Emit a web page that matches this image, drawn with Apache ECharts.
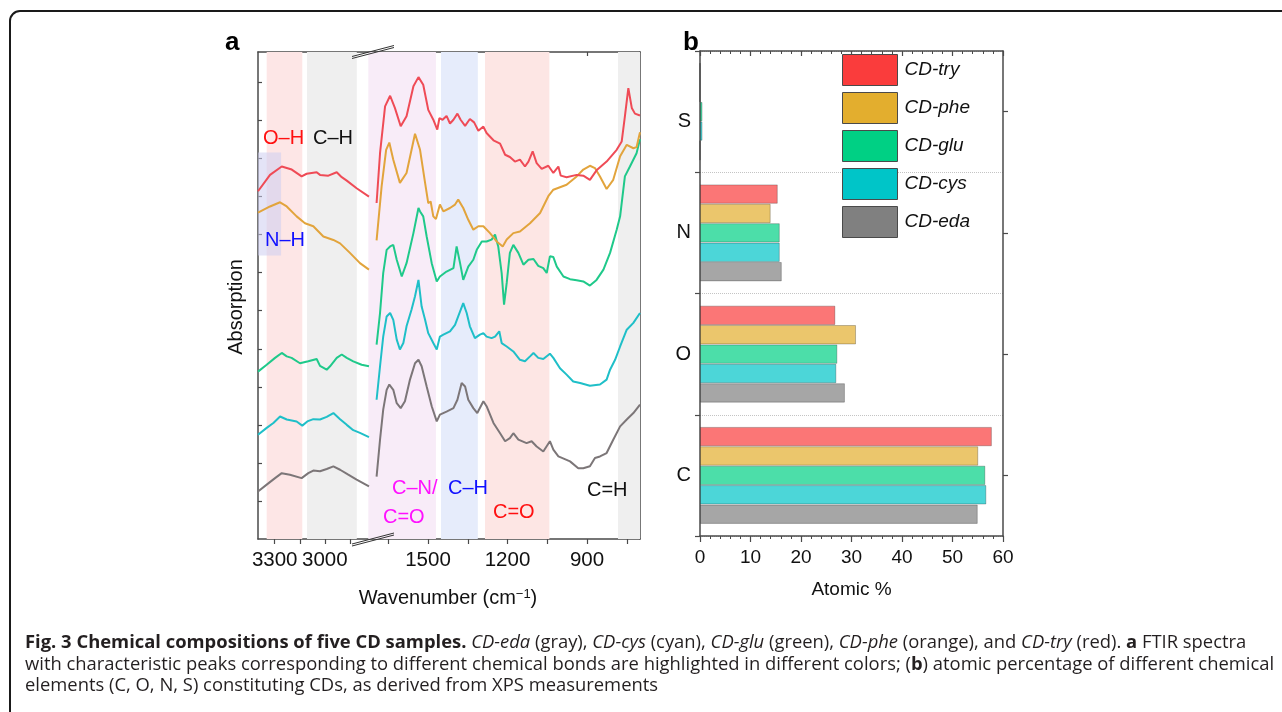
<!DOCTYPE html>
<html>
<head>
<meta charset="utf-8">
<script src="https://cdn.jsdelivr.net/npm/echarts@6/dist/echarts.min.js"></script>
<style>
  html, body { margin: 0; padding: 0; background: #fff; }
  #main { width: 1282px; height: 712px; }
</style>
</head>
<body>
<div id="main"></div>
<script>
// ---- panel a: FTIR (broken wavenumber axis) ----
var leftTicks = [2850, 3000, 3150, 3300];
var leftLabels = [3000, 3300];
var rightTicks = [750, 900, 1050, 1200, 1350, 1500, 1650];
var rightLabels = [900, 1200, 1500];
var absTicks = [1, 2, 3, 4, 5, 6, 7, 8, 9, 10, 11, 12];

// [wavenumber, absorption (a.u., offset)]
var tryLeft = [[3400,9.14],[3328,9.57],[3258,9.79],[3198,9.71],[3139,9.53],[3109,9.60],[3049,9.64],[3029,9.57],[2979,9.55],[2929,9.64],[2899,9.51],[2869,9.42],[2810,9.22],[2736,9.00]];
var tryRight = [[1694,8.83],[1681,10.14],[1662,11.37],[1643,11.65],[1625,11.33],[1603,10.85],[1581,11.11],[1555,11.90],[1536,12.14],[1518,11.94],[1499,11.28],[1480,11.02],[1465,10.76],[1457,11.06],[1445,11.02],[1430,11.12],[1417,10.92],[1404,11.02],[1389,11.18],[1377,11.02],[1360,10.86],[1342,11.04],[1326,10.95],[1310,10.73],[1291,10.84],[1279,10.67],[1253,10.48],[1228,10.39],[1209,10.10],[1191,10.04],[1172,9.92],[1153,9.97],[1134,9.79],[1121,9.92],[1105,10.19],[1090,9.88],[1071,9.73],[1046,9.81],[1027,9.62],[1008,9.79],[999,9.55],[977,9.51],[939,9.57],[914,9.55],[889,9.44],[864,9.69],[826,9.92],[788,10.23],[769,10.45],[757,11.11],[744,11.85],[731,11.33],[719,11.18],[700,11.13]];
var pheLeft = [[3400,8.58],[3328,8.74],[3268,8.85],[3228,8.74],[3169,8.48],[3119,8.30],[3069,8.22],[3009,7.95],[2949,7.86],[2909,7.77],[2850,7.52],[2790,7.25],[2736,7.08]];
var pheRight = [[1694,7.85],[1675,9.27],[1658,10.23],[1646,10.42],[1631,9.97],[1606,9.36],[1581,9.62],[1562,10.23],[1549,10.65],[1530,10.23],[1511,9.36],[1499,8.83],[1490,8.87],[1480,8.48],[1470,8.41],[1455,8.79],[1442,8.61],[1417,8.70],[1398,8.79],[1386,8.92],[1367,8.70],[1348,8.39],[1329,8.13],[1310,8.22],[1291,8.22],[1266,8.04],[1241,7.82],[1218,7.69],[1203,7.87],[1178,8.04],[1153,8.08],[1115,8.30],[1077,8.57],[1046,9.01],[1027,9.18],[977,9.31],[939,9.53],[914,9.71],[889,9.81],[870,9.75],[851,9.53],[826,9.20],[801,9.44],[775,10.06],[750,10.36],[725,10.27],[713,10.30],[700,10.69]];
var gluLeft = [[3400,4.40],[3348,4.58],[3298,4.76],[3258,4.89],[3228,4.80],[3199,4.76],[3149,4.62],[3099,4.67],[3049,4.73],[3029,4.55],[2989,4.45],[2969,4.54],[2929,4.76],[2899,4.85],[2869,4.76],[2830,4.67],[2780,4.58],[2736,4.54]];
var gluRight = [[1694,5.11],[1681,5.94],[1669,6.99],[1656,7.60],[1643,7.69],[1631,7.73],[1618,7.34],[1599,6.90],[1581,7.25],[1555,8.04],[1536,8.70],[1530,8.61],[1518,8.48],[1505,7.95],[1486,7.25],[1467,6.77],[1455,6.90],[1430,7.03],[1404,7.12],[1392,7.69],[1379,7.25],[1367,6.81],[1348,7.16],[1329,7.34],[1316,7.60],[1297,7.82],[1279,7.82],[1260,7.87],[1247,8.00],[1235,7.69],[1222,6.99],[1213,6.16],[1203,6.73],[1191,7.52],[1178,7.73],[1159,7.52],[1140,7.21],[1121,7.34],[1102,7.36],[1084,7.18],[1065,7.12],[1052,6.99],[1040,7.43],[1027,7.41],[1014,7.16],[989,6.90],[964,6.83],[939,6.80],[914,6.77],[889,6.66],[864,6.81],[838,7.08],[813,7.52],[788,8.13],[775,8.48],[757,9.53],[738,9.79],[713,10.14],[700,10.51]];
var cysLeft = [[3400,2.74],[3348,2.92],[3308,3.05],[3268,3.22],[3228,3.14],[3169,3.09],[3135,2.98],[3105,3.09],[3069,3.15],[3029,3.14],[2989,3.21],[2949,3.31],[2909,3.15],[2869,3.00],[2830,2.86],[2790,2.79],[2736,2.68]];
var cysRight = [[1694,3.66],[1681,4.54],[1669,5.32],[1656,5.85],[1643,5.94],[1631,5.76],[1618,5.24],[1606,4.98],[1593,5.15],[1581,5.59],[1562,6.03],[1549,6.38],[1536,6.81],[1524,6.11],[1511,5.76],[1499,5.41],[1480,5.15],[1467,4.98],[1455,5.32],[1442,5.37],[1417,5.46],[1398,5.63],[1386,5.85],[1367,6.20],[1354,5.94],[1342,5.59],[1323,5.28],[1304,5.37],[1291,5.41],[1279,5.32],[1260,5.28],[1247,5.32],[1231,5.46],[1222,5.15],[1203,5.06],[1178,4.93],[1153,4.71],[1134,4.67],[1115,4.80],[1102,4.89],[1084,4.76],[1065,4.73],[1040,4.87],[1027,4.76],[1002,4.49],[977,4.32],[952,4.14],[926,4.10],[889,4.03],[851,4.06],[826,4.19],[813,4.45],[794,4.71],[775,5.06],[750,5.50],[725,5.68],[700,5.94]];
var edaLeft = [[3400,1.25],[3348,1.43],[3298,1.60],[3258,1.73],[3209,1.69],[3139,1.60],[3099,1.73],[3069,1.80],[3029,1.78],[2989,1.84],[2949,1.91],[2909,1.82],[2860,1.69],[2810,1.56],[2736,1.38]];
var edaRight = [[1694,1.64],[1681,2.61],[1669,3.40],[1656,3.92],[1646,4.06],[1631,3.92],[1618,3.57],[1603,3.44],[1587,3.62],[1568,4.19],[1549,4.62],[1536,4.71],[1524,4.54],[1505,4.01],[1486,3.49],[1467,3.09],[1455,3.27],[1430,3.35],[1404,3.44],[1389,3.66],[1373,4.10],[1360,4.01],[1348,3.66],[1329,3.44],[1314,3.31],[1291,3.62],[1279,3.49],[1253,3.05],[1228,2.78],[1209,2.57],[1191,2.65],[1178,2.78],[1159,2.61],[1128,2.52],[1109,2.57],[1090,2.43],[1065,2.30],[1040,2.57],[1027,2.35],[1008,2.17],[977,2.08],[964,2.04],[933,1.86],[914,1.86],[889,1.91],[870,2.13],[851,2.17],[826,2.26],[801,2.61],[775,2.96],[750,3.14],[725,3.31],[700,3.53]];

// highlighted wavenumber ranges
var ohBand = [3348, 3135];
var chBand = [3107, 2809];
var nhBand = [3400, 3262];
var nhBandAbs = [7.45, 10.16];
var cnBandLeft = [2740, 2700];
var cnBand = [1700, 1470];
var chBand2 = [1451, 1312];
var coBand = [1285, 1042];
var chBand3 = [783, 700];

// ---- panel b: XPS atomic % ----
var elements = ['C', 'O', 'N', 'S'];
var atomicEda = [55.0, 28.7, 16.2, 0];
var atomicCys = [56.7, 27.0, 15.8, 0.5];
var atomicGlu = [56.5, 27.2, 15.8, 0.5];
var atomicPhe = [55.1, 30.9, 14.0, 0];
var atomicTry = [57.8, 26.8, 15.4, 0];
var atomicTicks = [0, 60, 10];

var FONT = '"Liberation Sans", Arial, sans-serif';
var CAPTION_FONT = '"Open Sans", "Noto Sans", sans-serif';
var CAP = 18.4;
var axisColor = '#4a4a4a';
var txt = '#111';

var lineColors = { eda: '#7c7678', cys: '#1fbfc8', glu: '#1fc98a', phe: '#e2a43c', tr: '#ef4b56' };
var barColors = { eda: '#808080', cys: '#00c5c8', glu: '#00d084', phe: '#e3ae2e', tr: '#fa3c3c' };

function plain(v) { return String(v); }

function ftirX(grid, min, max, ticks, labels, top) {
  return {
    type: 'value', gridIndex: grid, position: top ? 'top' : 'bottom',
    min: min, max: max, inverse: true,
    axisLine: { show: true, onZero: false, lineStyle: { color: axisColor, width: 1.5 } },
    axisTick: { show: true, inside: !!top, length: top ? 4 : 5, customValues: ticks,
      lineStyle: { color: axisColor, width: 1.2 } },
    axisLabel: { show: !top, customValues: labels, formatter: plain,
      fontSize: 20.5, fontFamily: FONT, color: txt, margin: 11 },
    splitLine: { show: false }
  };
}
function ftirY(grid, pos) {
  return {
    type: 'value', gridIndex: grid, position: pos, min: 0, max: 12.8,
    axisLine: { show: true, onZero: false, lineStyle: { color: axisColor, width: 1.5 } },
    axisTick: { show: true, inside: true, length: 4, customValues: absTicks,
      lineStyle: { color: axisColor, width: 1.2 } },
    axisLabel: { show: false },
    splitLine: { show: false }
  };
}
function spectrum(name, data, color, side) {
  return {
    name: name, type: 'line', xAxisIndex: side * 2, yAxisIndex: side,
    data: data, symbol: 'none', smooth: false, silent: true, z: 3,
    lineStyle: { color: color, width: 2 }
  };
}
function band(r, color) { return [{ xAxis: r[0], itemStyle: { color: color } }, { xAxis: r[1] }]; }
function bars(name, data, color) {
  return {
    name: name, type: 'bar', xAxisIndex: 4, yAxisIndex: 2, data: data,
    barGap: '0%', barCategoryGap: '20%', silent: true,
    itemStyle: { color: color, opacity: 0.7, borderColor: 'rgba(0,0,0,0.35)', borderWidth: 1 }
  };
}
function label(text, x, y, color) {
  return { type: 'text', x: x, y: y, z: 50,
    style: { text: text, fontSize: 20, fontFamily: FONT, fill: color, align: 'left', verticalAlign: 'middle' } };
}

var chart = echarts.init(document.getElementById('main'));

var option = {
  animation: false,
  backgroundColor: '#fff',
  grid: [
    { left: 258, top: 52, width: 117, height: 487 },
    { left: 375, top: 52, width: 265, height: 487 },
    { left: 700, top: 51, width: 303, height: 485 }
  ],
  xAxis: [
    ftirX(0, 2700, 3400, leftTicks, leftLabels, false),
    ftirX(0, 2700, 3400, leftTicks, leftLabels, true),
    ftirX(1, 700, 1700, rightTicks, rightLabels, false),
    ftirX(1, 700, 1700, rightTicks, rightLabels, true),
    {
      type: 'value', gridIndex: 2, position: 'bottom',
      min: atomicTicks[0], max: atomicTicks[1], interval: atomicTicks[2],
      axisLine: { show: true, onZero: false, lineStyle: { color: axisColor, width: 1.5 } },
      axisTick: { show: true, length: 6, lineStyle: { color: axisColor, width: 1.2 } },
      minorTick: { show: true, splitNumber: 5, length: 3, lineStyle: { color: axisColor, width: 1 } },
      axisLabel: { fontSize: 19, fontFamily: FONT, color: txt, margin: 12 },
      splitLine: { show: false },
      name: 'Atomic %', nameLocation: 'middle', nameGap: 44,
      nameTextStyle: { fontSize: 19, fontFamily: FONT, color: txt }
    },
    {
      type: 'value', gridIndex: 2, position: 'top',
      min: atomicTicks[0], max: atomicTicks[1], interval: atomicTicks[2],
      axisLine: { show: true, onZero: false, lineStyle: { color: axisColor, width: 1.5 } },
      axisTick: { show: true, inside: true, length: 5, lineStyle: { color: axisColor, width: 1.2 } },
      minorTick: { show: true, splitNumber: 5, length: 3, lineStyle: { color: axisColor, width: 1 } },
      axisLabel: { show: false },
      splitLine: { show: false }
    }
  ],
  yAxis: [
    ftirY(0, 'left'),
    ftirY(1, 'right'),
    {
      type: 'category', gridIndex: 2, position: 'left', data: elements,
      axisLine: { show: true, onZero: false, lineStyle: { color: axisColor, width: 1.5 } },
      axisTick: { show: true, length: 5, lineStyle: { color: axisColor, width: 1.2 } },
      axisLabel: {
        fontSize: 20, fontFamily: FONT, color: txt, margin: 9,
        formatter: function (v) { return v === 'S' ? '{low|S}' : v; },
        rich: { low: { fontSize: 20, fontFamily: FONT, color: txt, padding: [20, 0, 0, 0] } }
      },
      splitLine: { show: true, lineStyle: { color: '#c4c4c4', type: 'dotted', width: 1 } }
    },
    {
      type: 'category', gridIndex: 2, position: 'right', data: elements,
      axisLine: { show: true, onZero: false, lineStyle: { color: axisColor, width: 1.5 } },
      axisTick: { show: true, alignWithLabel: true, length: 5, lineStyle: { color: axisColor, width: 1.2 } },
      axisLabel: { show: false },
      splitLine: { show: false }
    }
  ],
  legend: {
    data: ['CD-try', 'CD-phe', 'CD-glu', 'CD-cys', 'CD-eda'],
    orient: 'vertical', left: 842, top: 54, padding: 0,
    itemWidth: 55, itemHeight: 31, itemGap: 6, icon: 'rect', selectedMode: false,
    itemStyle: { opacity: 1, borderColor: '#4a4a4a', borderWidth: 1 },
    textStyle: { fontSize: 19, fontStyle: 'italic', fontFamily: FONT, color: txt, padding: [0, 0, 0, 2] }
  },
  series: [
    {
      type: 'line', xAxisIndex: 0, yAxisIndex: 0, data: [], z: 1, silent: true,
      markArea: {
        silent: true,
        data: [
          band(ohBand, '#fde6e6'),
          band(chBand, '#efefef'),
          band(cnBandLeft, '#f8ecf8'),
          [{ xAxis: nhBand[0], yAxis: nhBandAbs[0], itemStyle: { color: 'rgba(205,205,240,0.55)' } },
           { xAxis: nhBand[1], yAxis: nhBandAbs[1] }]
        ]
      }
    },
    {
      type: 'line', xAxisIndex: 2, yAxisIndex: 1, data: [], z: 1, silent: true,
      markArea: {
        silent: true,
        data: [
          band(cnBand, '#f8ecf8'),
          band(chBand2, '#e6ecfb'),
          band(coBand, '#fde6e4'),
          band(chBand3, '#efefef')
        ]
      }
    },
    spectrum('FTIR CD-eda L', edaLeft, lineColors.eda, 0),
    spectrum('FTIR CD-cys L', cysLeft, lineColors.cys, 0),
    spectrum('FTIR CD-glu L', gluLeft, lineColors.glu, 0),
    spectrum('FTIR CD-phe L', pheLeft, lineColors.phe, 0),
    spectrum('FTIR CD-try L', tryLeft, lineColors.tr, 0),
    spectrum('FTIR CD-eda R', edaRight, lineColors.eda, 1),
    spectrum('FTIR CD-cys R', cysRight, lineColors.cys, 1),
    spectrum('FTIR CD-glu R', gluRight, lineColors.glu, 1),
    spectrum('FTIR CD-phe R', pheRight, lineColors.phe, 1),
    spectrum('FTIR CD-try R', tryRight, lineColors.tr, 1),
    // first series sits at the top of each category band
    bars('CD-try', atomicTry, barColors.tr),
    bars('CD-phe', atomicPhe, barColors.phe),
    bars('CD-glu', atomicGlu, barColors.glu),
    bars('CD-cys', atomicCys, barColors.cys),
    bars('CD-eda', atomicEda, barColors.eda)
  ],
  graphic: [
    // outer frame
    { type: 'rect', z: 0, shape: { x: 10, y: 11, width: 1300, height: 740, r: 10 },
      style: { fill: 'none', stroke: '#1a1a1a', lineWidth: 2 } },
    // panel letters
    { type: 'text', x: 225, y: 43, z: 50, style: { text: 'a', fontSize: 26, fontWeight: 'bold', fontFamily: FONT, fill: '#000', align: 'left', verticalAlign: 'middle' } },
    { type: 'text', x: 683, y: 43, z: 50, style: { text: 'b', fontSize: 26, fontWeight: 'bold', fontFamily: FONT, fill: '#000', align: 'left', verticalAlign: 'middle' } },
    // axis titles of panel a
    { type: 'text', x: 236, y: 307, rotation: Math.PI / 2, z: 50,
      style: { text: 'Absorption', fontSize: 20, fontFamily: FONT, fill: txt, align: 'center', verticalAlign: 'middle' } },
    { type: 'text', x: 448, y: 598, z: 50,
      style: { text: 'Wavenumber (cm{sup|\u22121})', fontSize: 20, fontFamily: FONT, fill: txt, align: 'center', verticalAlign: 'middle',
        rich: { sup: { fontSize: 13, fontFamily: FONT, fill: txt, verticalAlign: 'top', padding: [0, 0, 6, 0] } } } },
    // band annotations
    label('O\u2013H', 263, 138, '#ff1010'),
    label('C\u2013H', 313, 138, '#111'),
    label('N\u2013H', 265, 240, '#1010ff'),
    label('C\u2013N/', 392, 488, '#ff10ff'),
    label('C\u2013H', 448, 488, '#1010ff'),
    label('C=O', 383, 517, '#ff10ff'),
    label('C=O', 493, 512, '#ff1010'),
    label('C=H', 587, 490, '#111'),
    // axis break marks
    { type: 'line', z: 50, shape: { x1: 352, y1: 56.5, x2: 394, y2: 45.5 }, style: { stroke: '#333', lineWidth: 1 } },
    { type: 'line', z: 50, shape: { x1: 352, y1: 58.5, x2: 394, y2: 47.5 }, style: { stroke: '#333', lineWidth: 1 } },
    { type: 'line', z: 50, shape: { x1: 352, y1: 544, x2: 394, y2: 533 }, style: { stroke: '#333', lineWidth: 1 } },
    { type: 'line', z: 50, shape: { x1: 352, y1: 546, x2: 394, y2: 535 }, style: { stroke: '#333', lineWidth: 1 } },
    // caption
    { type: 'text', x: 25, y: 643, z: 50,
      style: { text: '{b|Fig. 3 Chemical compositions of five CD samples.} {i|CD-eda} (gray), {i|CD-cys} (cyan), {i|CD-glu} (green), {i|CD-phe} (orange), and {i|CD-try} (red). {b|a} FTIR spectra',
        fontSize: CAP, fontFamily: CAPTION_FONT, fill: '#231f20', align: 'left', verticalAlign: 'middle',
        rich: {
          b: { fontSize: CAP, fontFamily: CAPTION_FONT, fontWeight: 'bold', fill: '#231f20' },
          i: { fontSize: CAP, fontFamily: CAPTION_FONT, fontStyle: 'italic', fill: '#231f20' }
        } } },
    { type: 'text', x: 25, y: 664.5, z: 50,
      style: { text: 'with characteristic peaks corresponding to different chemical bonds are highlighted in different colors; ({b|b}) atomic percentage of different chemical',
        fontSize: CAP, fontFamily: CAPTION_FONT, fill: '#231f20', align: 'left', verticalAlign: 'middle',
        rich: { b: { fontSize: CAP, fontFamily: CAPTION_FONT, fontWeight: 'bold', fill: '#231f20' } } } },
    { type: 'text', x: 25, y: 686, z: 50,
      style: { text: 'elements (C, O, N, S) constituting CDs, as derived from XPS measurements',
        fontSize: CAP, fontFamily: CAPTION_FONT, fill: '#231f20', align: 'left', verticalAlign: 'middle' } }
  ]
};

chart.setOption(option);
window.addEventListener('resize', function () {
  chart.resize();
});
</script>
</body>
</html>
